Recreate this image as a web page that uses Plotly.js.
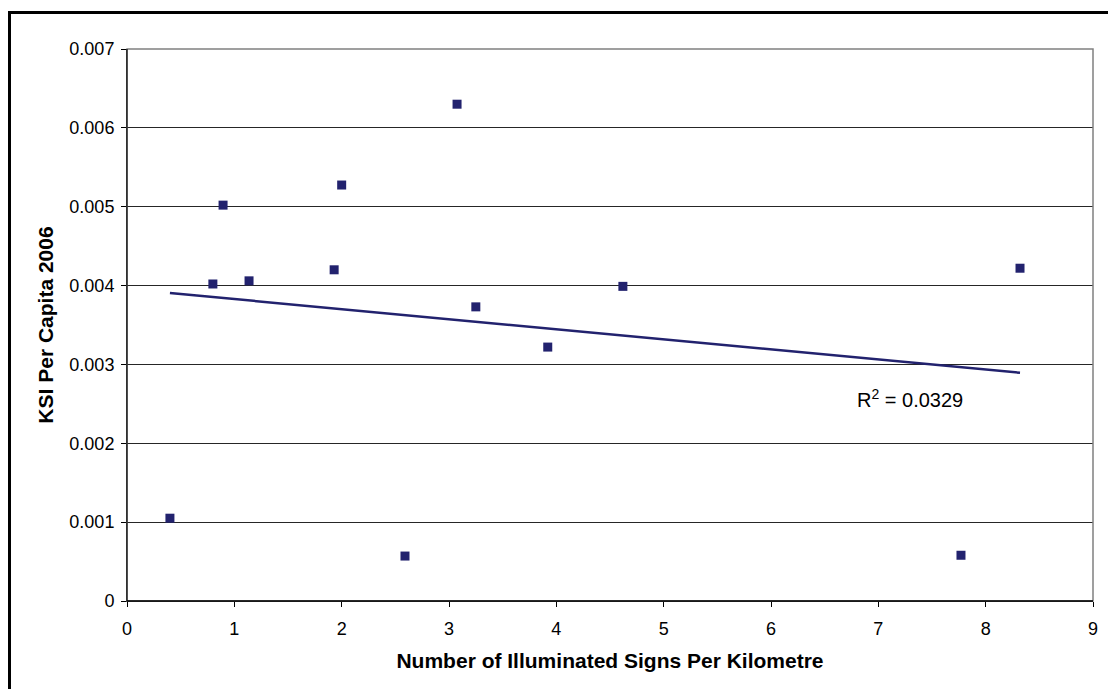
<!DOCTYPE html>
<html>
<head>
<meta charset="utf-8">
<script src="https://cdn.plot.ly/plotly-3.0.1.min.js"></script>
<style>
  html, body { margin: 0; padding: 0; background: #fff; }
  #wrap { position: relative; width: 1108px; height: 689px; overflow: hidden; }
  #chart { width: 1108px; height: 689px; }
  #frame { position: absolute; left: 8px; top: 11px; width: 1120px; height: 700px;
           border: 3px solid #000; box-sizing: border-box; pointer-events: none; }
</style>
</head>
<body>
<div id="wrap">
  <div id="chart"></div>
  <div id="frame"></div>
</div>
<script>
// Data
const signsPerKm = [0.40, 0.80, 0.895, 1.137, 1.93, 2.00, 2.59, 3.075, 3.25, 3.92, 4.62, 7.77, 8.32];
const ksiPerCapita = [0.00105, 0.00402, 0.00502, 0.00406, 0.00420, 0.005275, 0.00057, 0.00630, 0.00373, 0.00322, 0.00399, 0.00058, 0.00422];
const xTickVals = [0, 1, 2, 3, 4, 5, 6, 7, 8, 9];
const yTickVals = [0, 0.001, 0.002, 0.003, 0.004, 0.005, 0.006, 0.007];
const yTickText = ['0', '0.001', '0.002', '0.003', '0.004', '0.005', '0.006', '0.007'];
const rSquaredLabel = 'R<sup>2</sup> = 0.0329';

// Linear least-squares trendline over the data
const n = signsPerKm.length;
const mx = signsPerKm.reduce((a, b) => a + b, 0) / n;
const my = ksiPerCapita.reduce((a, b) => a + b, 0) / n;
let sxy = 0, sxx = 0;
for (let i = 0; i < n; i++) {
  sxy += (signsPerKm[i] - mx) * (ksiPerCapita[i] - my);
  sxx += (signsPerKm[i] - mx) ** 2;
}
const slope = sxy / sxx;
const intercept = my - slope * mx;
const xMin = Math.min(...signsPerKm), xMax = Math.max(...signsPerKm);
const trendX = [xMin, xMax];
const trendY = trendX.map(x => intercept + slope * x);

const navy = '#22226e';

const traces = [
  {
    x: signsPerKm, y: ksiPerCapita, type: 'scatter', mode: 'markers',
    marker: { symbol: 'square', size: 9, color: navy, line: { width: 0 } },
    hoverinfo: 'x+y', showlegend: false
  },
  {
    x: trendX, y: trendY, type: 'scatter', mode: 'lines',
    line: { color: navy, width: 2.5 }, hoverinfo: 'skip', showlegend: false
  }
];

const fam = 'Liberation Sans, Arial, sans-serif';

const layout = {
  width: 1108, height: 689,
  margin: { l: 127, r: 15, t: 49, b: 88, pad: 0 },
  paper_bgcolor: '#fff', plot_bgcolor: '#fff',
  font: { family: fam, size: 18, color: '#000' },
  showlegend: false,
  xaxis: {
    range: [0, 9], tickvals: xTickVals, ticktext: xTickVals.map(String),
    showgrid: false, zeroline: false,
    showline: true, linecolor: '#000', linewidth: 1, mirror: false,
    ticks: 'outside', ticklen: 5, tickcolor: '#000', tickwidth: 1,
    ticklabelstandoff: 6,
    tickfont: { family: fam, size: 18, color: '#000' },
    title: { text: 'Number of Illuminated Signs Per Kilometre', standoff: 15,
             font: { family: fam, size: 21, color: '#000', weight: 'bold' } }
  },
  yaxis: {
    range: [0, 0.007], tickvals: yTickVals, ticktext: yTickText,
    showgrid: true, gridcolor: '#262626', gridwidth: 1, zeroline: false,
    showline: true, linecolor: '#000', linewidth: 1,
    ticks: 'outside', ticklen: 5, tickcolor: '#000', tickwidth: 1,
    ticklabelstandoff: 3,
    tickfont: { family: fam, size: 18, color: '#000' },
    title: { text: 'KSI Per Capita 2006', standoff: 10,
             font: { family: fam, size: 21, color: '#000', weight: 'bold' } }
  },
  shapes: [
    { type: 'rect', xref: 'paper', yref: 'paper', x0: 0, x1: 1, y0: 0, y1: 1,
      line: { color: '#808080', width: 1.5 }, fillcolor: 'rgba(0,0,0,0)', layer: 'above' },
    { type: 'line', xref: 'paper', yref: 'paper', x0: 0, x1: 0, y0: 0, y1: 1,
      line: { color: '#000', width: 1 }, layer: 'above' },
    { type: 'line', xref: 'paper', yref: 'paper', x0: 0, x1: 1, y0: 0, y1: 0,
      line: { color: '#000', width: 1.5 }, layer: 'above' }
  ],
  annotations: [
    { x: 6.78, y: 0.00257, xref: 'x', yref: 'y', text: rSquaredLabel, showarrow: false,
      xanchor: 'left', yanchor: 'middle', font: { family: fam, size: 20, color: '#000' } }
  ]
};

Plotly.newPlot('chart', traces, layout, { displayModeBar: false, staticPlot: true });
</script>
</body>
</html>
